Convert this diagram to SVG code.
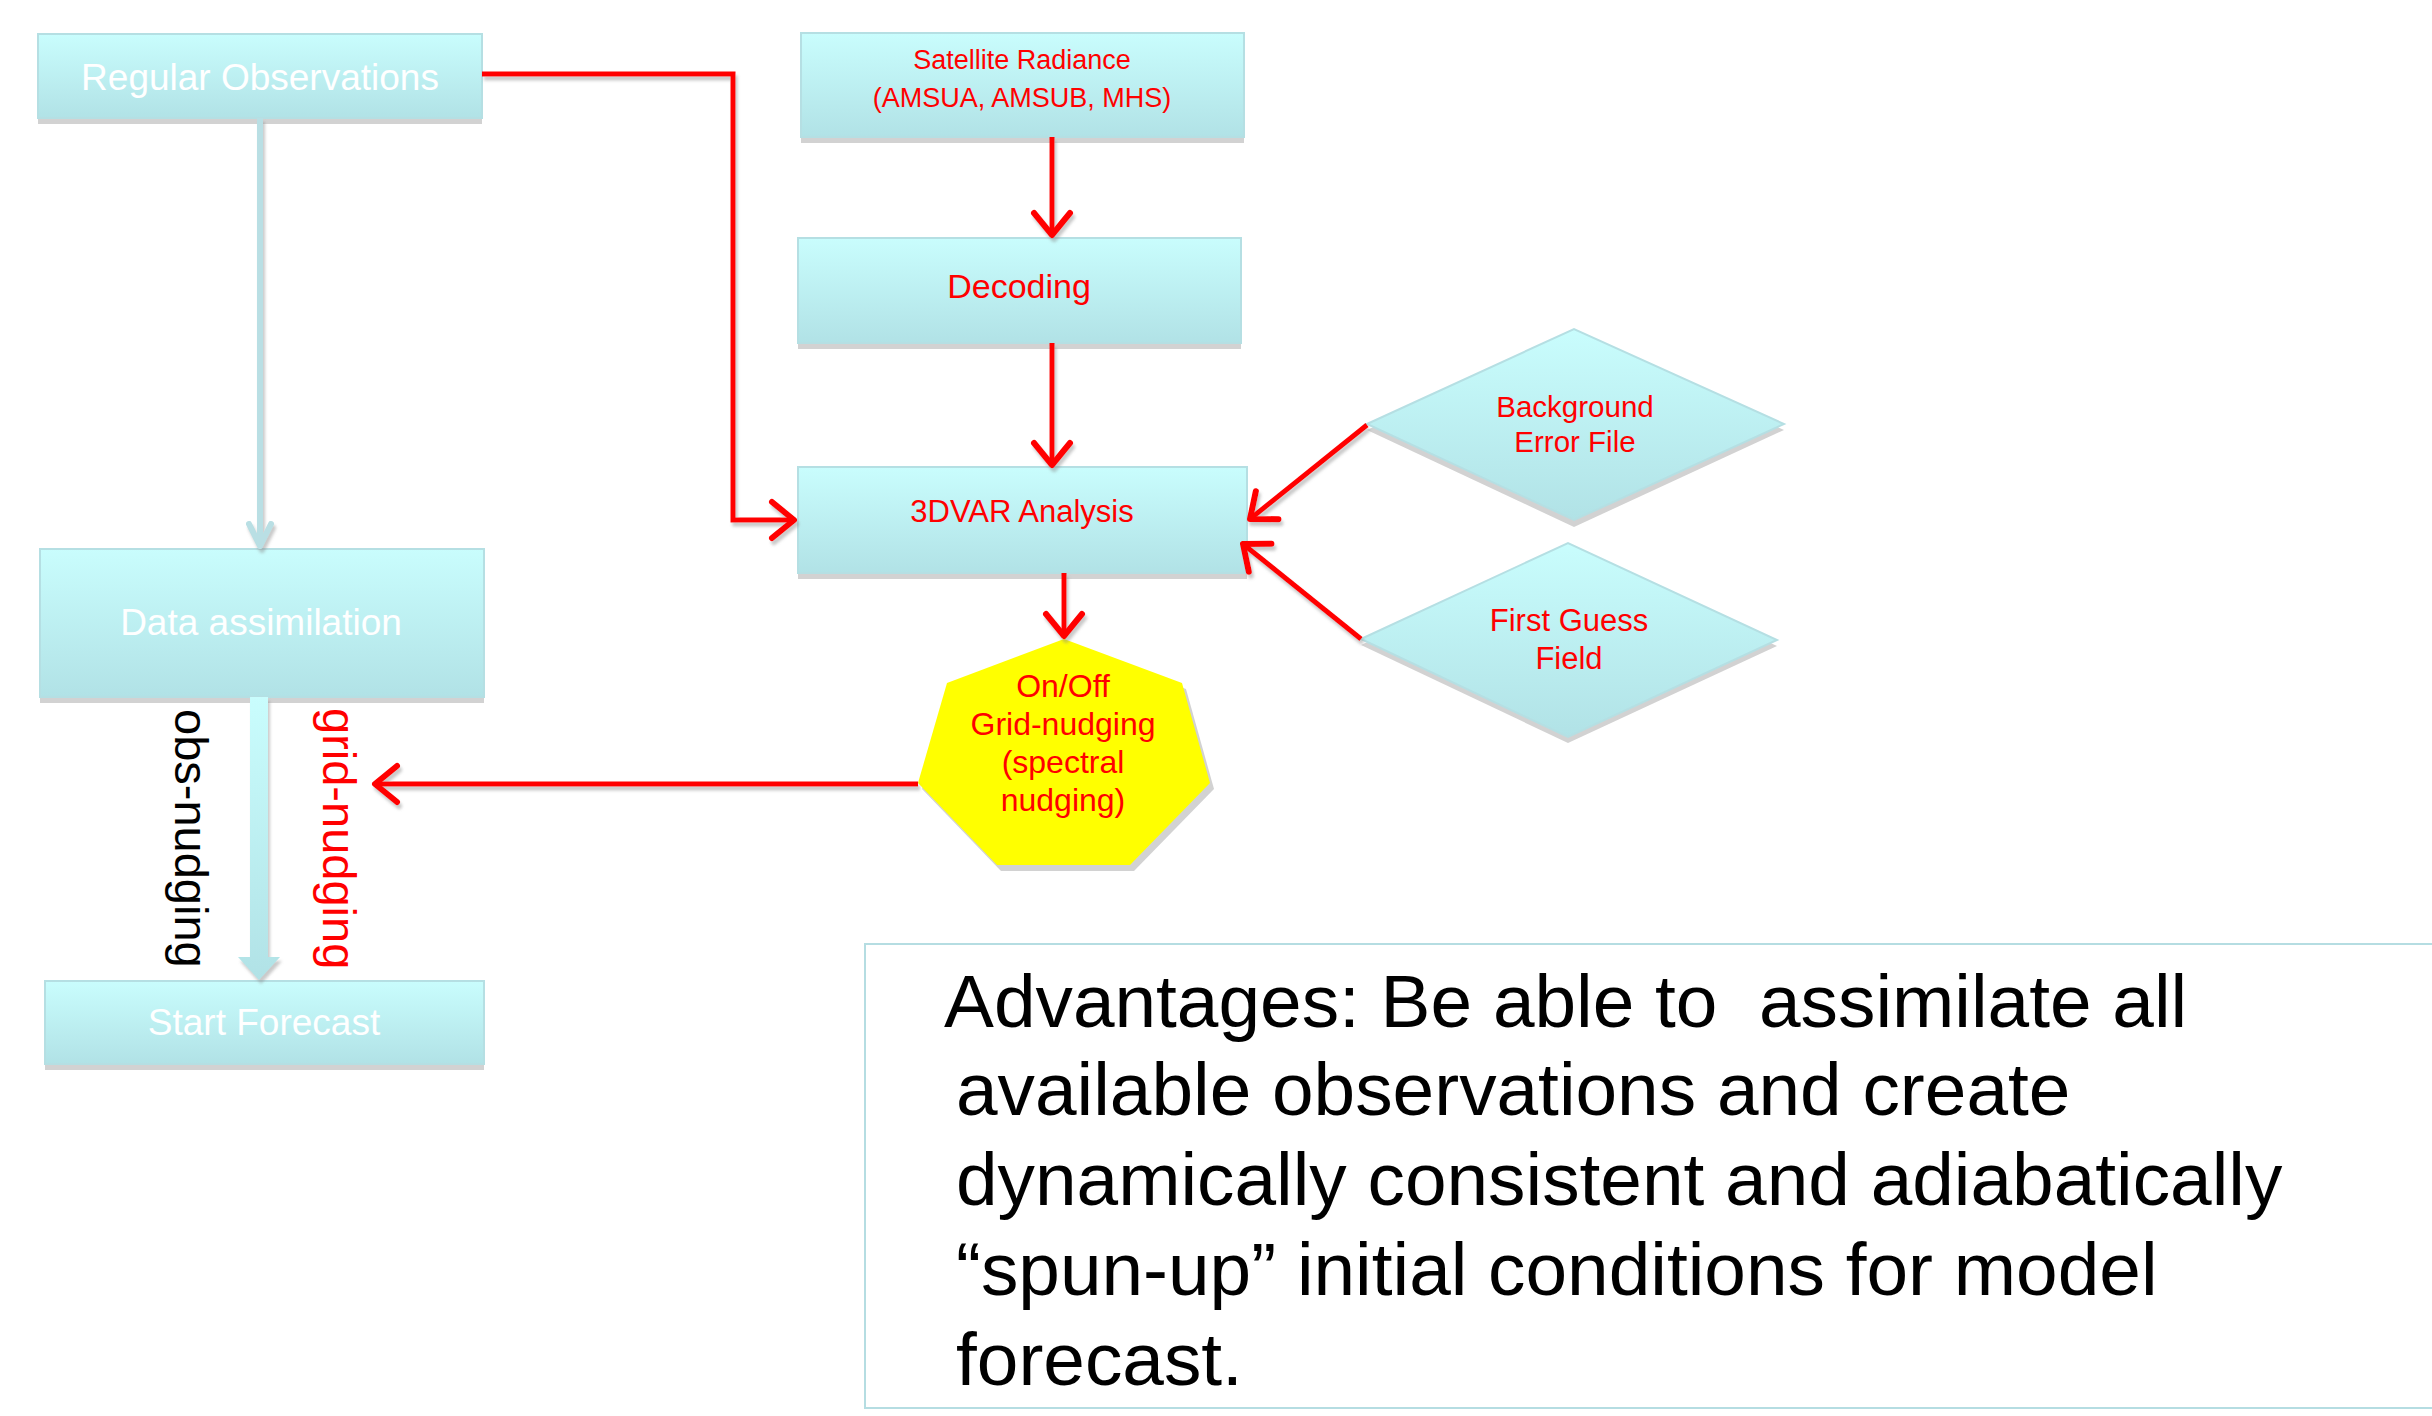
<svg xmlns="http://www.w3.org/2000/svg" width="2432" height="1416" viewBox="0 0 2432 1416">
<defs>
<linearGradient id="gbox" x1="0" y1="0" x2="0" y2="1">
<stop offset="0" stop-color="#c9fdfd"/>
<stop offset="1" stop-color="#b1e2e6"/>
</linearGradient>
<filter id="sh" x="-10%" y="-10%" width="130%" height="130%">
<feDropShadow dx="2" dy="4" stdDeviation="1.5" flood-color="#888" flood-opacity="0.45"/>
</filter>
<marker id="ar" markerUnits="userSpaceOnUse" viewBox="0 0 30 44" markerWidth="30" markerHeight="44" refX="26" refY="22" orient="auto">
<path d="M4,4 L26,22 L4,40" fill="none" stroke="#ff0000" stroke-width="6" stroke-linecap="round" stroke-linejoin="round"/>
</marker>
<marker id="ab" markerUnits="userSpaceOnUse" viewBox="0 0 28 28" markerWidth="28" markerHeight="28" refX="25" refY="14" orient="auto">
<path d="M3,3 L25,14 L3,25" fill="none" stroke="#b9dfe4" stroke-width="6" stroke-linecap="round" stroke-linejoin="round"/>
</marker>
<style>
.box{fill:url(#gbox);stroke:#b5dfe3;stroke-width:2}
.shd{fill:#d2d2d2}
.wt{font-family:"Liberation Sans",Arial,sans-serif;fill:#ffffff;text-anchor:middle}
.rt{font-family:"Liberation Sans",Arial,sans-serif;fill:#ff0000;text-anchor:middle}
.bt{font-family:"Liberation Sans",Arial,sans-serif;fill:#000000}
.red{fill:none;stroke:#ff0000;stroke-width:5}
</style>
</defs>
<rect width="2432" height="1416" fill="#ffffff"/>

<g id="regular-observations">
<rect class="shd" x="38" y="40" width="444" height="84"/>
<rect class="box" x="38" y="34" width="444" height="84"/>
<text class="wt" x="260" y="90" font-size="37">Regular Observations</text>
</g>

<g id="satellite-radiance">
<rect class="shd" x="801" y="39" width="443" height="104"/>
<rect class="box" x="801" y="33" width="443" height="104"/>
<text class="rt" x="1022" y="69" font-size="27">Satellite Radiance</text>
<text class="rt" x="1022" y="107" font-size="27">(AMSUA, AMSUB, MHS)</text>
</g>

<g id="decoding">
<rect class="shd" x="798" y="244" width="443" height="105"/>
<rect class="box" x="798" y="238" width="443" height="105"/>
<text class="rt" x="1019" y="298" font-size="34">Decoding</text>
</g>

<g id="analysis-3dvar">
<rect class="shd" x="798" y="473" width="449" height="106"/>
<rect class="box" x="798" y="467" width="449" height="106"/>
<text class="rt" x="1022" y="522" font-size="31">3DVAR Analysis</text>
</g>

<g id="background-error-file">
<polygon class="shd" points="1367,430 1574,335 1784,430 1574,527"/>
<polygon class="box" points="1367,424 1574,329 1784,424 1574,520"/>
<text class="rt" x="1575" y="417" font-size="29.5">Background</text>
<text class="rt" x="1575" y="452" font-size="29.5">Error File</text>
</g>

<g id="first-guess-field">
<polygon class="shd" points="1361,645 1568,549 1777,646 1568,743"/>
<polygon class="box" points="1361,639 1568,543 1777,640 1568,737"/>
<text class="rt" x="1569" y="631" font-size="31">First Guess</text>
<text class="rt" x="1569" y="669" font-size="31">Field</text>
</g>

<g id="grid-nudging-switch">
<polygon class="shd" points="1068,645 1186,689 1214,789 1134,871 1001,871 922,789 951,689"/>
<polygon points="1064,639 1182,683 1210,783 1130,865 997,865 918,783 947,683" fill="#ffff00"/>
<text class="rt" x="1063" y="697" font-size="32">On/Off</text>
<text class="rt" x="1063" y="735" font-size="32">Grid-nudging</text>
<text class="rt" x="1063" y="773" font-size="32">(spectral</text>
<text class="rt" x="1063" y="811" font-size="32">nudging)</text>
</g>

<g id="data-assimilation">
<rect class="shd" x="40" y="555" width="444" height="148"/>
<rect class="box" x="40" y="549" width="444" height="148"/>
<text class="wt" x="261" y="635" font-size="37">Data assimilation</text>
</g>

<g id="start-forecast">
<rect class="shd" x="45" y="987" width="439" height="83"/>
<rect class="box" x="45" y="981" width="439" height="83"/>
<text class="wt" x="264" y="1035" font-size="37">Start Forecast</text>
</g>

<g id="connectors">
<g filter="url(#sh)">
<polyline class="red" points="482,74 733,74 733,520 794,520" marker-end="url(#ar)"/>
<line class="red" x1="1052" y1="137" x2="1052" y2="235" marker-end="url(#ar)"/>
<line class="red" x1="1052" y1="343" x2="1052" y2="465" marker-end="url(#ar)"/>
<line class="red" x1="1367" y1="425" x2="1250" y2="519" marker-end="url(#ar)"/>
<line class="red" x1="1361" y1="639" x2="1243" y2="544" marker-end="url(#ar)"/>
<line class="red" x1="1064" y1="573" x2="1064" y2="636" marker-end="url(#ar)"/>
<line class="red" x1="918" y1="784" x2="375" y2="784" marker-end="url(#ar)"/>
<line x1="260" y1="118" x2="260" y2="546" stroke="#b9dfe4" stroke-width="6" marker-end="url(#ab)"/>
<polygon points="250,697 268,697 268,957 280,957 259,980 238,957 250,957" fill="url(#gbox)"/>
</g>
<text class="bt" transform="translate(175,709) rotate(90)" font-size="47">obs-nudging</text>
<text transform="translate(323,708) rotate(90)" font-size="47" font-family="Liberation Sans, Arial, sans-serif" fill="#ff0000">grid-nudging</text>
</g>

<g id="advantages">
<rect x="865" y="944" width="1600" height="464" fill="#ffffff" stroke="#b5dde2" stroke-width="2"/>
<text class="bt" x="944" y="1027" font-size="74.8" xml:space="preserve">Advantages: Be able to  assimilate all</text>
<text class="bt" x="956" y="1115" font-size="74.8">available observations and create</text>
<text class="bt" x="956" y="1205" font-size="74.8">dynamically consistent and adiabatically</text>
<text class="bt" x="956" y="1295" font-size="74.8">“spun-up” initial conditions for model</text>
<text class="bt" x="956" y="1385" font-size="74.8">forecast.</text>
</g>
</svg>
